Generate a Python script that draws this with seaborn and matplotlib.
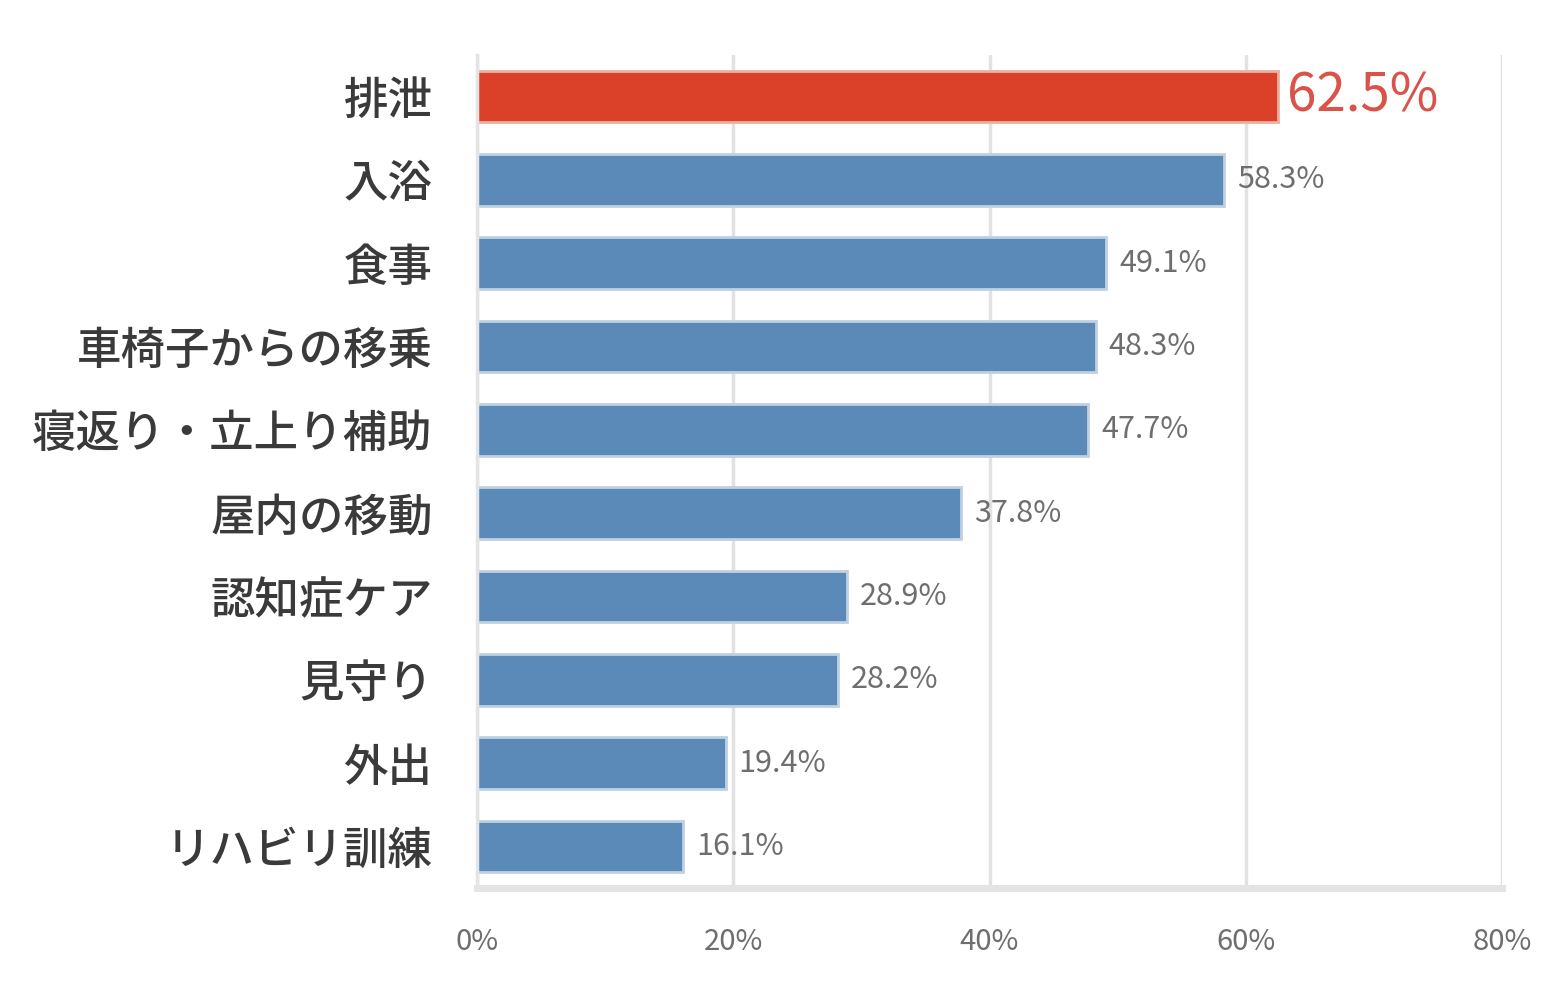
import matplotlib
matplotlib.use("Agg")
import matplotlib.pyplot as plt
import seaborn as sns
import pandas as pd
from matplotlib.ticker import FuncFormatter

# データ
categories = ["排泄", "入浴", "食事", "車椅子からの移乗", "寝返り・立上り補助",
              "屋内の移動", "認知症ケア", "見守り", "外出", "リハビリ訓練"]
values = [62.5, 58.3, 49.1, 48.3, 47.7, 37.8, 28.9, 28.2, 19.4, 16.1]
xticks = [0, 20, 40, 60, 80]

RED = "#DA4128"
BLUE = "#5B8AB8"
colors = [RED] + [BLUE] * (len(categories) - 1)

sns.set_theme(style="white")
plt.rcParams["font.family"] = ["Noto Sans CJK JP", "DejaVu Sans"]

df = pd.DataFrame({"item": categories, "pct": values})

fig = plt.figure(figsize=(15.66, 9.94), dpi=100)
ax = fig.add_axes([0.3046, 0.1066, 0.6546, 0.8384])

sns.barplot(data=df, x="pct", y="item", hue="item", palette=colors,
            legend=False, width=0.62, orient="h", ax=ax, saturation=1,
            edgecolor="#BFD0E3", linewidth=2)
ax.patches[0].set_edgecolor("#EDAFA4")

ax.set_xlim(0, 80)
ax.set_ylim(len(categories) - 0.5, -0.5)
ax.set_xticks(xticks)
ax.xaxis.set_major_formatter(FuncFormatter(lambda v, p: f"{v:.0f}%"))
ax.grid(axis="x", color="#E2E2E2", linewidth=2.5)
ax.set_axisbelow(True)
ax.set_xlabel("")
ax.set_ylabel("")

for s in ["top", "right"]:
    ax.spines[s].set_visible(False)
ax.spines["left"].set_color("#E4E4E4")
ax.spines["left"].set_linewidth(2.5)
ax.spines["bottom"].set_color("#E4E4E4")
ax.spines["bottom"].set_linewidth(5)

ax.tick_params(axis="x", labelsize=21, labelcolor="#6E6E6E", pad=28, length=0)
ax.tick_params(axis="y", labelsize=32, labelcolor="#3A3A3A", pad=32, length=0)
for lbl in ax.get_yticklabels():
    lbl.set_fontweight("medium")

for i, v in enumerate(values):
    if i == 0:
        ax.text(v + 0.7, i, f"{v}%", va="center", ha="left",
                fontsize=38, color="#D9534A")
    else:
        ax.text(v + 1.0, i, f"{v}%", va="center", ha="left",
                fontsize=22, color="#6E6E6E")

fig.savefig("out.png", dpi=100, facecolor="white")
